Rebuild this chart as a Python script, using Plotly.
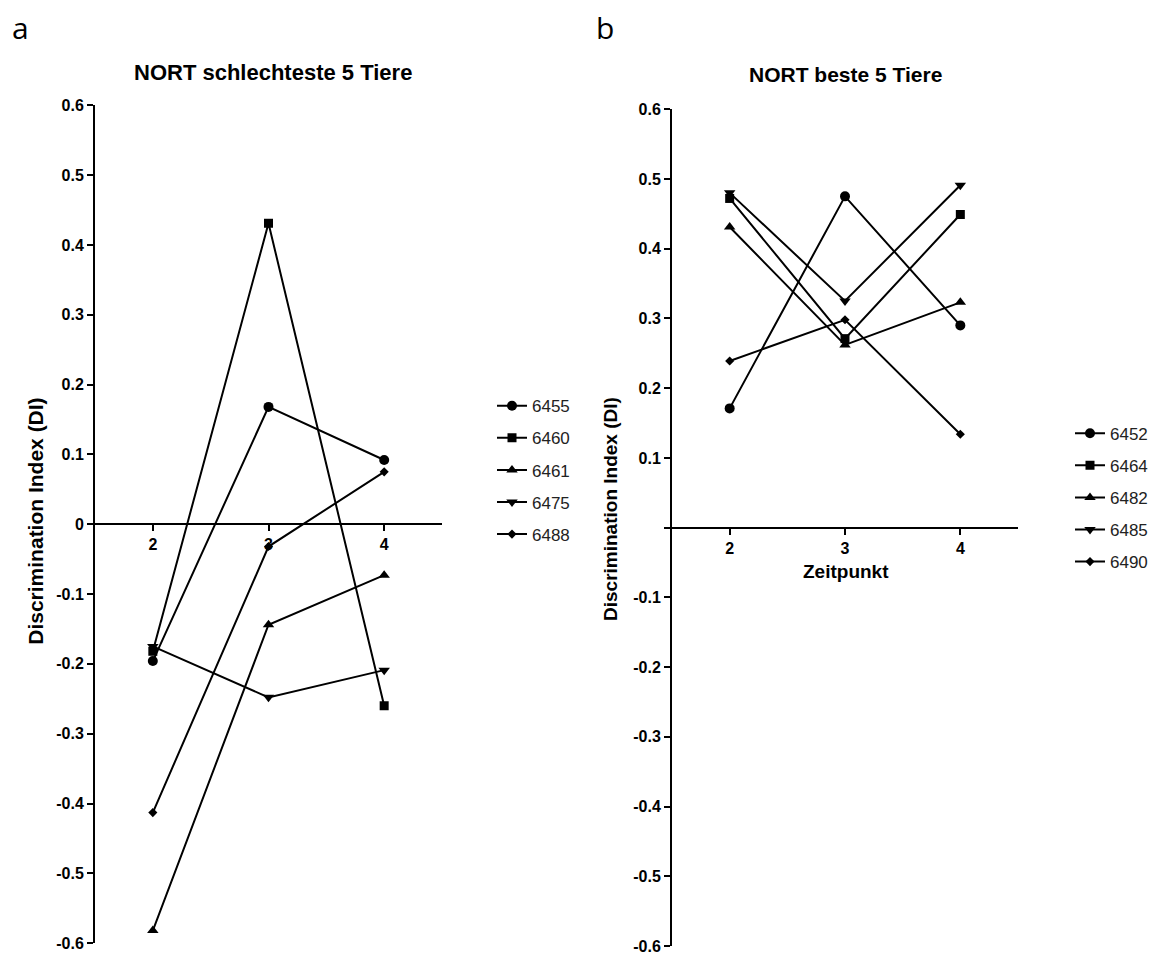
import plotly.graph_objects as go

timepoints = [2, 3, 4]

animals_a = ["6455", "6460", "6461", "6475", "6488"]
values_a = {
    "6455": [-0.196, 0.168, 0.092],
    "6460": [-0.182, 0.431, -0.260],
    "6461": [-0.582, -0.144, -0.073],
    "6475": [-0.175, -0.248, -0.209],
    "6488": [-0.413, -0.032, 0.075],
}

animals_b = ["6452", "6464", "6482", "6485", "6490"]
values_b = {
    "6452": [0.171, 0.475, 0.290],
    "6464": [0.472, 0.271, 0.449],
    "6482": [0.431, 0.262, 0.323],
    "6485": [0.480, 0.325, 0.491],
    "6490": [0.239, 0.298, 0.134],
}

symbols = ["circle", "square", "triangle-up", "triangle-down", "diamond"]
sizes = [10, 9, 10, 10, 7]

ytick_vals = [-0.6, -0.5, -0.4, -0.3, -0.2, -0.1, 0, 0.1, 0.2, 0.3, 0.4, 0.5, 0.6]
ytick_text_a = ["-0.6", "-0.5", "-0.4", "-0.3", "-0.2", "-0.1", "0", "0.1", "0.2", "0.3", "0.4", "0.5", "0.6"]
ytick_text_b = ["-0.6", "-0.5", "-0.4", "-0.3", "-0.2", "-0.1", "", "0.1", "0.2", "0.3", "0.4", "0.5", "0.6"]
xtick_vals = [2, 3, 4]

W, H = 1159, 961
FONT = "Liberation Sans, Arial, sans-serif"

fig = go.Figure()

for i, a in enumerate(animals_a):
    fig.add_trace(go.Scatter(
        x=timepoints, y=values_a[a], name=a, mode="lines+markers",
        line=dict(color="black", width=2),
        marker=dict(symbol=symbols[i], size=sizes[i], color="black"),
        xaxis="x", yaxis="y", legend="legend", legendgroup="a" + a,
        cliponaxis=False,
    ))
for i, a in enumerate(animals_b):
    fig.add_trace(go.Scatter(
        x=timepoints, y=values_b[a], name=a, mode="lines+markers",
        line=dict(color="black", width=2),
        marker=dict(symbol=symbols[i], size=sizes[i], color="black"),
        xaxis="x2", yaxis="y2", legend="legend2", legendgroup="b" + a,
        cliponaxis=False,
    ))

ya = [1 - 952 / H, 1 - 99 / H]
yb = [1 - 955 / H, 1 - 103 / H]
xa = [95 / W, 442 / W]
xb = [672 / W, 1018 / W]

tickfont = dict(family=FONT, size=16, color="black", weight="bold")

yax_common = dict(
    range=[-0.6, 0.6], tickvals=ytick_vals, showline=True, linecolor="black",
    linewidth=2, ticks="outside", ticklen=6, tickwidth=2, tickcolor="black",
    showgrid=False, zeroline=False, tickfont=tickfont,
)
xax_common = dict(
    range=[1.5, 4.5], tickvals=xtick_vals, showline=True, linecolor="black",
    linewidth=2, ticks="outside", ticklen=6, tickwidth=2, tickcolor="black",
    showgrid=False, zeroline=False, tickfont=tickfont, anchor="free",
)

legend_common = dict(
    font=dict(family=FONT, size=17, color="#222222"), bgcolor="rgba(0,0,0,0)",
    traceorder="grouped", tracegroupgap=7, xanchor="left", yanchor="top",
    itemwidth=30,
)

fig.update_layout(
    width=W, height=H, margin=dict(l=0, r=0, t=0, b=0),
    paper_bgcolor="white", plot_bgcolor="white",
    xaxis=dict(domain=xa, position=(ya[0] + ya[1]) / 2, **xax_common),
    yaxis=dict(domain=ya, anchor="x", ticktext=ytick_text_a, **yax_common),
    xaxis2=dict(domain=xb, position=(yb[0] + yb[1]) / 2, **xax_common),
    yaxis2=dict(domain=yb, anchor="x2", ticktext=ytick_text_b, **yax_common),
    legend=dict(x=492 / W, y=1 - 387 / H, **legend_common),
    legend2=dict(x=1070 / W, y=1 - 415 / H, **legend_common),
    annotations=[
        dict(text="a", x=20 / W, y=1 - 20 / H, xref="paper", yref="paper",
             xanchor="center", yanchor="middle", showarrow=False,
             font=dict(family="Open Sans, sans-serif", size=30, color="black")),
        dict(text="b", x=605 / W, y=1 - 20 / H, xref="paper", yref="paper",
             xanchor="center", yanchor="middle", showarrow=False,
             font=dict(family="Open Sans, sans-serif", size=30, color="black")),
        dict(text="NORT schlechteste 5 Tiere", x=273 / W, y=1 - 66 / H,
             xref="paper", yref="paper", xanchor="center", yanchor="middle",
             showarrow=False,
             font=dict(family=FONT, size=22, color="black", weight="bold")),
        dict(text="NORT beste 5 Tiere", x=845 / W, y=1 - 68 / H,
             xref="paper", yref="paper", xanchor="center", yanchor="middle",
             showarrow=False,
             font=dict(family=FONT, size=21, color="black", weight="bold")),
        dict(text="Discrimination Index (DI)", x=36 / W, y=1 - 523 / H,
             xref="paper", yref="paper", xanchor="center", yanchor="middle",
             showarrow=False, textangle=-90,
             font=dict(family=FONT, size=21, color="black", weight="bold")),
        dict(text="Discrimination Index (DI)", x=611 / W, y=1 - 510 / H,
             xref="paper", yref="paper", xanchor="center", yanchor="middle",
             showarrow=False, textangle=-90,
             font=dict(family=FONT, size=19, color="black", weight="bold")),
        dict(text="Zeitpunkt", x=846 / W, y=1 - 574 / H,
             xref="paper", yref="paper", xanchor="center", yanchor="middle",
             showarrow=False,
             font=dict(family=FONT, size=19, color="black", weight="bold")),
    ],
)

fig.write_html("out.html")
